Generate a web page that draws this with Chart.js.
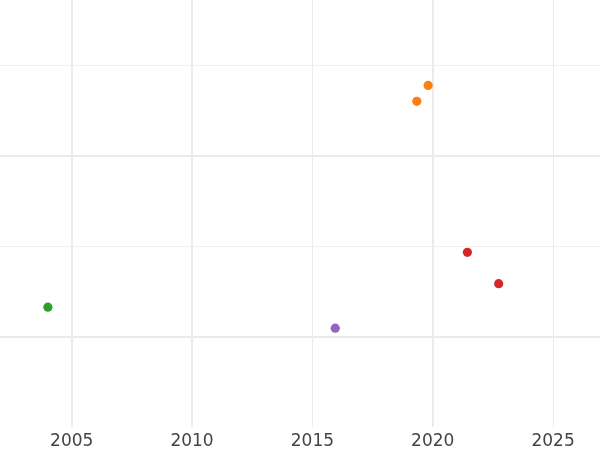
<!DOCTYPE html>
<html>
<head>
<meta charset="utf-8">
<script src="https://cdn.jsdelivr.net/npm/chart.js@4"></script>
<style>
  html, body { margin: 0; padding: 0; background: #fff; }
  #wrap { width: 600px; height: 450px; }
</style>
</head>
<body>
<div id="wrap"><canvas id="chart"></canvas></div>
<script>
// dados
const greenX  = [2004.01];
const greenY  = [1.164];
const purpleX = [2015.95];
const purpleY = [1.048];
const orangeX = [2019.34, 2019.81];
const orangeY = [2.301, 2.389];
const redX    = [2021.44, 2022.74];
const redY    = [1.467, 1.294];

const xTicks = [2005, 2010, 2015, 2020, 2025];
const yTicks = [1, 1.5, 2, 2.5];

const toPoints = (xs, ys) => xs.map((x, i) => ({ x, y: ys[i] }));

function series(xs, ys, color) {
  return {
    data: toPoints(xs, ys),
    backgroundColor: color,
    borderColor: color,
    borderWidth: 0,
    pointRadius: 4.6,
    pointHoverRadius: 4.6
  };
}

new Chart(document.getElementById('chart'), {
  type: 'scatter',
  data: {
    datasets: [
      series(greenX, greenY, '#2ca02c'),
      series(purpleX, purpleY, '#9467bd'),
      series(orangeX, orangeY, '#ff7f0e'),
      series(redX, redY, '#d62728')
    ]
  },
  options: {
    responsive: true,
    maintainAspectRatio: false,
    animation: false,
    layout: { padding: 0, autoPadding: false },
    plugins: { legend: { display: false }, tooltip: { enabled: false } },
    scales: {
      x: {
        type: 'linear',
        min: 2002.02,
        max: 2026.95,
        afterBuildTicks: s => { s.ticks = xTicks.map(v => ({ value: v })); },
        afterFit: s => { s.height = 23; },
        border: { display: false },
        grid: {
          drawTicks: false,
          color: '#ebebeb',
          lineWidth: ctx => (ctx.tick && (ctx.tick.value === 2015 || ctx.tick.value === 2025)) ? 1 : 2
        },
        ticks: {
          autoSkip: false,
          maxRotation: 0,
          padding: 4,
          color: '#444',
          font: { family: 'DejaVu Sans', size: 17 },
          callback: v => String(v)
        }
      },
      y: {
        type: 'linear',
        min: 0.502,
        max: 2.861,
        afterBuildTicks: s => { s.ticks = yTicks.map(v => ({ value: v })); },
        afterFit: s => { s.width = 0; },
        border: { display: false },
        grid: {
          drawTicks: false,
          color: ctx => (ctx.tick && Number.isInteger(ctx.tick.value)) ? '#ebebeb' : '#f0f0f0',
          lineWidth: ctx => (ctx.tick && Number.isInteger(ctx.tick.value)) ? 2 : 1
        },
        ticks: { display: false }
      }
    }
  }
});
</script>
</body>
</html>
